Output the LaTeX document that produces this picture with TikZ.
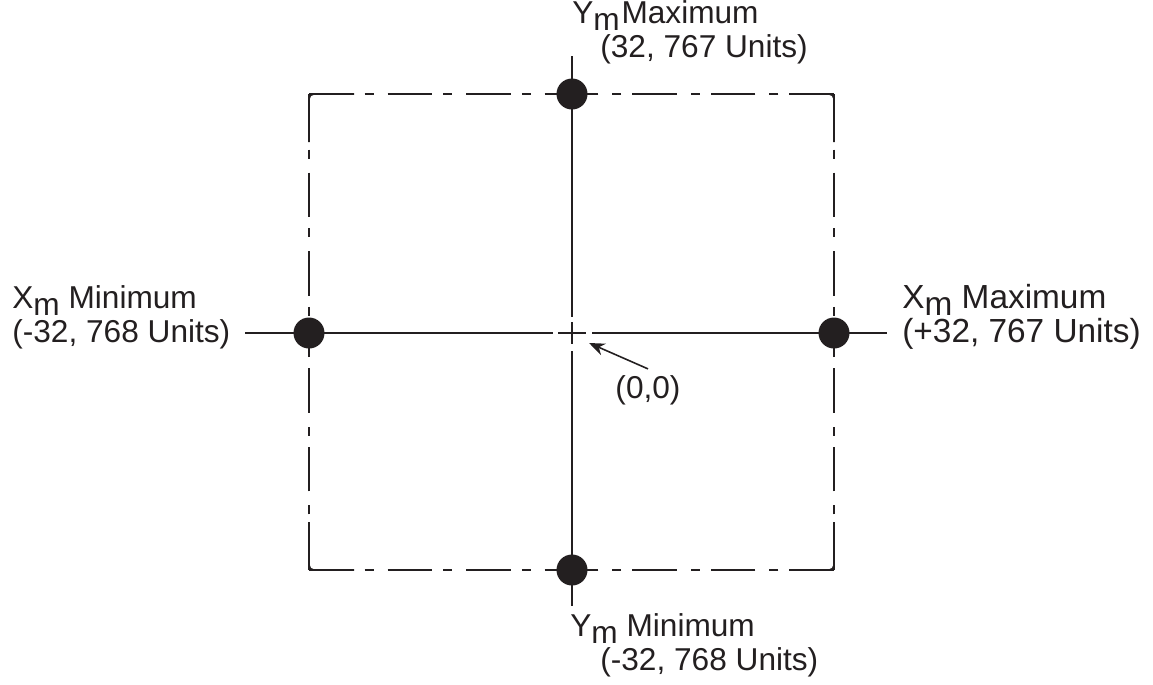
\documentclass[tikz,border=0pt]{standalone}
\usepackage{fontspec}
\setmainfont{Liberation Sans}
\usetikzlibrary{calc, arrows.meta}
\definecolor{ink}{HTML}{231F20}
\newcommand{\lowm}{\raisebox{-4pt}{m}}

\begin{document}
\begin{tikzpicture}[
    x=0.02cm, y=-0.02cm,
    color=ink,
    font=\fontsize{18}{19.3}\selectfont,
    axis/.style={line width=1.1pt},
    frame/.style={line width=1.1pt, dash pattern=on 25.5pt off 6.2pt on 5.1pt off 7.9pt},
    corner/.style={line width=1.1pt, rounded corners=2.5pt},
    dot/.style={circle, fill=ink, inner sep=0pt, minimum size=0.62cm},
    lbl/.style={align=left, inner sep=0pt},
    >={Stealth[length=9pt, width=7pt]}
]
   \useasboundingbox (0,0) rectangle (1153,684);

   % Frame corners and origin
   \coordinate (tl) at (309,94);
   \coordinate (tr) at (834,94);
   \coordinate (bl) at (309,570);
   \coordinate (br) at (834,570);
   \coordinate (o) at (572,333);

   % Axis ends
   \coordinate (xa) at (245,333);
   \coordinate (xb) at (887,333);
   \coordinate (ya) at (572,56);
   \coordinate (yb) at (572,606);

   % Dash-dot frame, drawn outwards from each corner
   \draw[frame] (tl) -- (o |- tl);
   \draw[frame] (tr) -- (o |- tr);
   \draw[frame] (bl) -- (o |- bl);
   \draw[frame] (br) -- (o |- br);
   \draw[frame] (tl) -- (tl |- o);
   \draw[frame] (bl) -- (bl |- o);
   \draw[frame] (tr) -- (tr |- o);
   \draw[frame] (br) -- (br |- o);
   \draw[corner] ($(tl)+(45,0)$) -- (tl) -- ($(tl)+(0,48)$);
   \draw[corner] ($(tr)+(-45,0)$) -- (tr) -- ($(tr)+(0,48)$);
   \draw[corner] ($(bl)+(45,0)$) -- (bl) -- ($(bl)+(0,-48)$);
   \draw[corner] ($(br)+(-45,0)$) -- (br) -- ($(br)+(0,-48)$);

   % Axes with the small cross at the origin
   \draw[axis] (xa) -- ($(o)+(-19,0)$);
   \draw[axis] ($(o)+(-14,0)$) -- ($(o)+(14,0)$);
   \draw[axis] ($(o)+(20,0)$) -- (xb);
   \draw[axis] (ya) -- ($(o)+(0,-16)$);
   \draw[axis] ($(o)+(0,-11)$) -- ($(o)+(0,11)$);
   \draw[axis] ($(o)+(0,18)$) -- (yb);

   % Limit points
   \node[dot] (top) at (o |- tl) {};
   \node[dot] (bot) at (o |- bl) {};
   \node[dot] (lft) at (tl |- o) {};
   \node[dot] (rgt) at (tr |- o) {};

   % Labels (base sits on the second line)
   \node[lbl, anchor=base west] (ymax) at (572,57) {Y\lowm\kern1pt Maximum\\\hspace*{0.56cm}(32, 767 Units)};
   \node[lbl, anchor=base west] (ymin) at (570,670) {Y\lowm\ Minimum\\\hspace*{0.6cm}(-32, 768 Units)};
   \node[lbl, anchor=base west] (xmin) at (12,342) {X\lowm\ Minimum\\(-32, 768 Units)};
   \node[lbl, anchor=base west, font=\fontsize{19}{19.3}\selectfont] (xmax) at (902,342) {X\lowm\ Maximum\\(+32, 767 Units)};

   \node[anchor=base] (zero) at (648,398) {(0,0)};
   \coordinate (tip) at (589,343);
   \draw[->, line width=0.9pt] (zero.north) -- (tip);

\end{tikzpicture}
\end{document}
